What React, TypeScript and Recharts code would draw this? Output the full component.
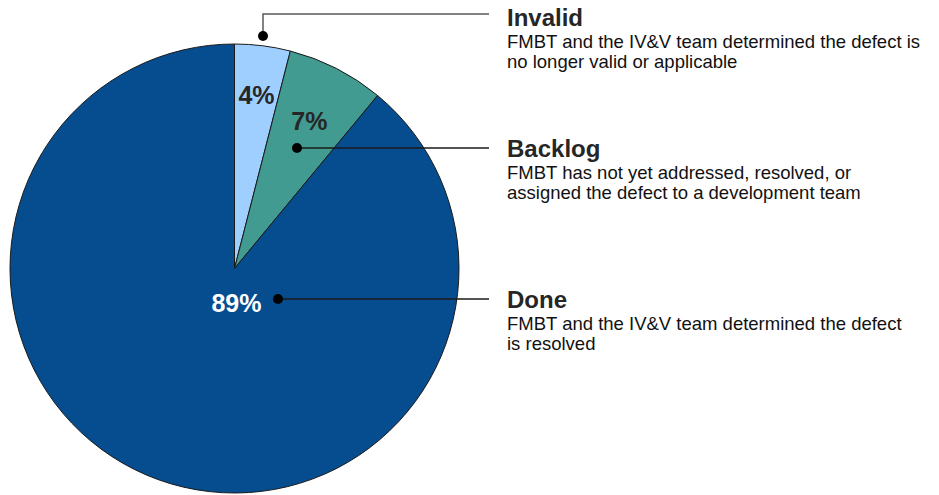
import React from 'react';
import { PieChart, Pie, Cell } from 'recharts';

// Defect status breakdown
const categories = ['Invalid', 'Backlog', 'Done'];
const shares = [4, 7, 89];
const descriptions = [
  ['FMBT and the IV&V team determined the defect is', 'no longer valid or applicable'],
  ['FMBT has not yet addressed, resolved, or', 'assigned the defect to a development team'],
  ['FMBT and the IV&V team determined the defect', 'is resolved'],
];

const COLORS = ['#9ECFFF', '#429B91', '#054D8F'];
const LABEL_COLORS = ['#262626', '#262626', '#FFFFFF'];
const FONT = '"Liberation Sans", Arial, sans-serif';

// callout layout (relative to pie centre for dots, absolute for the text column)
const callouts = [
  { dotDx: 28.5, dotDy: -232.5, elbowY: 14, titleY: 26, lineColor: '#595959' },
  { dotDx: 62.5, dotDy: -120.5, elbowY: null, titleY: 157, lineColor: '#1a1a1a' },
  { dotDx: 43.5, dotDy: 30.5, elbowY: null, titleY: 308, lineColor: '#1a1a1a' },
];
const LINE_END_X = 489;
const TEXT_X = 507;

const data = categories.map((name, i) => ({ name, value: shares[i] }));

const RADIAN = Math.PI / 180;

const renderLabel = (props: any) => {
  const { cx, cy, midAngle, outerRadius, index, value } = props;
  let lx: number;
  let ly: number;
  if (index === 2) {
    lx = cx + 2;
    ly = cy + 34;
  } else {
    const r = outerRadius * (index === 0 ? 0.78 : 0.735);
    lx = cx + r * Math.cos(-midAngle * RADIAN);
    ly = cy + r * Math.sin(-midAngle * RADIAN);
  }
  const c = callouts[index];
  const dx = cx + c.dotDx;
  const dy = cy + c.dotDy;
  const path =
    c.elbowY !== null
      ? `M${dx},${dy} L${dx},${c.elbowY} L${LINE_END_X},${c.elbowY}`
      : `M${dx},${dy} L${LINE_END_X},${dy}`;
  return (
    <g key={`lbl-${index}`}>
      <text
        x={lx}
        y={ly}
        fill={LABEL_COLORS[index]}
        textAnchor="middle"
        dominantBaseline="central"
        fontFamily={FONT}
        fontWeight="bold"
        fontSize={25}
      >
        {`${value}%`}
      </text>
      <path d={path} stroke={c.lineColor} strokeWidth={1.5} fill="none" />
      <circle cx={dx} cy={dy} r={5} fill="#000" />
      <text x={TEXT_X} y={c.titleY} fill="#262626" fontFamily={FONT} fontWeight="bold" fontSize={24}>
        {categories[index]}
      </text>
      <text x={TEXT_X} y={c.titleY + 22} fill="#111" fontFamily={FONT} fontSize={18.5}>
        {descriptions[index].map((line, j) => (
          <tspan key={j} x={TEXT_X} dy={j === 0 ? 0 : 20}>
            {line}
          </tspan>
        ))}
      </text>
    </g>
  );
};

export default function App() {
  return (
    <div style={{ position: 'absolute', left: 0, top: 0, background: '#fff' }}>
      <PieChart width={939} height={495} margin={{ top: 0, right: 0, bottom: 0, left: 0 }}>
        <Pie
          data={data}
          dataKey="value"
          nameKey="name"
          cx={234.5}
          cy={268.5}
          outerRadius={224.5}
          startAngle={90}
          endAngle={-270}
          stroke="#1a1a1a"
          strokeWidth={1}
          label={renderLabel}
          labelLine={false}
          isAnimationActive={false}
        >
          {data.map((d, i) => (
            <Cell key={d.name} fill={COLORS[i]} />
          ))}
        </Pie>
      </PieChart>
    </div>
  );
}
